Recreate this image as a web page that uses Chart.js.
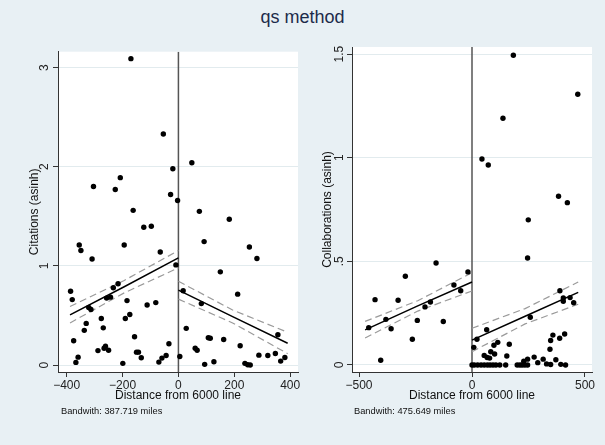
<!DOCTYPE html>
<html><head><meta charset="utf-8">
<script src="https://cdn.jsdelivr.net/npm/chart.js@4/dist/chart.umd.min.js"></script>
<style>
html,body{margin:0;padding:0;background:#e8f0f4;}
body{width:605px;height:445px;position:relative;overflow:hidden;font-family:"Liberation Sans",Arial,sans-serif;}
#title{position:absolute;left:0;top:7px;width:605px;text-align:center;font-size:18px;color:#1c2b4a;line-height:normal;}
.note{position:absolute;top:406px;font-size:9.3px;color:#111;line-height:normal;white-space:nowrap;}
canvas{position:absolute;top:40px;}
</style></head><body>
<div id="title">qs method</div>
<canvas id="c1" width="305" height="380" style="left:0px"></canvas>
<canvas id="c2" width="305" height="380" style="left:300px"></canvas>
<div class="note" style="left:61px">Bandwith: 387.719 miles</div>
<div class="note" style="left:354px">Bandwith: 475.649 miles</div>
<script>
// ---- Citations panel (left) ----
const citeDist = [-170,-54,-20,-304,-226,-208,-28,-3,-162,-124,-97,
  -355,-349,-309,-194,-65,-9,
  -386,-380,-216,-233,-257,-243,-184,-321,-313,-174,-190,-276,-112,-81,-330,-269,-337,-375,-157,-34,-288,-261,-266,-250,-150,-143,-133,-359,-367,-199,-44,-59,-70,
  48,75,182,92,254,281,150,212,17,82,28,107,114,162,356,60,67,221,288,320,347,381,366,94,127,238,248,257,5];
const citeVal = [3.09,2.33,1.98,1.80,1.77,1.89,1.72,1.66,1.56,1.39,1.40,
  1.21,1.155,1.07,1.21,1.14,1.01,
  0.745,0.66,0.82,0.78,0.675,0.685,0.65,0.58,0.56,0.51,0.47,0.47,0.605,0.63,0.42,0.375,0.35,0.245,0.285,0.215,0.146,0.19,0.17,0.15,0.13,0.13,0.073,0.08,0.027,0.017,0.096,0.07,0.03,
  2.04,1.55,1.47,1.245,1.19,1.075,0.94,0.715,0.75,0.62,0.37,0.275,0.27,0.258,0.305,0.17,0.15,0.195,0.10,0.096,0.116,0.076,0.04,0.007,0.033,0.017,0.003,0.0,0.087];
const citeFitLeftDist = [-388,-194,0];
const citeFitLeft = [0.506,0.79,1.08];
const citeFitLeftHi = [0.59,0.853,1.155];
const citeFitLeftLo = [0.425,0.728,0.98];
const citeFitRightDist = [0,194,391];
const citeFitRight = [0.755,0.488,0.22];
const citeFitRightHi = [0.845,0.555,0.33];
const citeFitRightLo = [0.665,0.425,0.115];
const citeXTicks = [-400,-200,0,200,400];
const citeXLabels = ["\u2212400","\u2212200","0","200","400"];
const citeYTicks = [0,1,2,3];
const citeYLabels = ["0","1","2","3"];

// ---- Collaborations panel (right) ----
const collabDist = [-159,-18,-295,-80,-50,-429,-327,-184,-208,-381,-242,-127,-457,-358,-264,-404,
  183,468,137,44,72,383,422,249,246,389,404,404,434,450,258,
  65,22,8,114,97,165,54,67,78,83,100,154,
  0,10,25,40,54,68,80,93,106,123,149,200,212,222,234,246,
  229,246,275,291,315,330,348,345,371,393,414,
  348,358,388,410];
const collabVal = [0.492,0.449,0.428,0.386,0.358,0.315,0.312,0.304,0.28,0.22,0.215,0.21,0.18,0.175,0.124,0.023,
  1.494,1.306,1.19,0.994,0.965,0.814,0.783,0.70,0.516,0.358,0.323,0.307,0.325,0.30,0.23,
  0.17,0.124,0.085,0.109,0.095,0.10,0.046,0.036,0.033,0.064,0.053,0.043,
  0,0,0,0,0,0,0,0,0,0,0,0,0,0,0,0,
  0.018,0.028,0.038,0.011,0.028,0.005,0.002,0.076,0.025,0.003,0.0,
  0.118,0.144,0.129,0.149];
const collabFitLeftDist = [-473,-240,0];
const collabFitLeft = [0.169,0.285,0.40];
const collabFitLeftHi = [0.21,0.31,0.445];
const collabFitLeftLo = [0.13,0.26,0.357];
const collabFitRightDist = [0,235,470];
const collabFitRight = [0.12,0.235,0.35];
const collabFitRightHi = [0.177,0.272,0.40];
const collabFitRightLo = [0.064,0.198,0.293];
const collabXTicks = [-500,0,500];
const collabXLabels = ["\u2212500","0","500"];
const collabYTicks = [0,0.5,1,1.5];
const collabYLabels = ["0",".5","1","1.5"];

const FONT = "'Liberation Sans', Arial, sans-serif";
const zip = (xs, ys) => xs.map((x,i)=>({x:x, y:ys[i]}));

const plotBg = {id:'plotBg', beforeDraw(chart){
  const {ctx, chartArea:a} = chart;
  ctx.save(); ctx.fillStyle = '#ffffff';
  ctx.fillRect(a.left, a.top, a.right-a.left, a.bottom-a.top);
  ctx.restore();
}};

function lineDs(xs, ys, dashed, order){
  return {data: zip(xs, ys), showLine:true, pointRadius:0, borderColor: dashed ? '#9a9a9a' : '#000',
    borderWidth: dashed ? 1.2 : 1.5, borderDash: dashed ? [7,4] : [], fill:false, order: order};
}

function makeChart(id, cfg){
  const datasets = [
    {data: zip(cfg.dist, cfg.val), pointRadius:2.7, pointBackgroundColor:'#000', pointBorderWidth:0, showLine:false, order:0},
    lineDs(cfg.fl[0], cfg.fl[1], false, 1),
    lineDs(cfg.fl[0], cfg.fl[2], true, 2),
    lineDs(cfg.fl[0], cfg.fl[3], true, 2),
    lineDs(cfg.fr[0], cfg.fr[1], false, 1),
    lineDs(cfg.fr[0], cfg.fr[2], true, 2),
    lineDs(cfg.fr[0], cfg.fr[3], true, 2),
    {data:[{x:0,y:cfg.ymin},{x:0,y:cfg.ymax}], showLine:true, pointRadius:0, borderColor:'#555', borderWidth:1.5, order:3}
  ];
  return new Chart(document.getElementById(id), {
    type:'scatter',
    data:{datasets},
    plugins:[plotBg],
    options:{
      responsive:false, animation:false, events:[],
      layout:{padding:{top:7, right:cfg.padRight, left:0, bottom:0}},
      plugins:{legend:{display:false}, tooltip:{enabled:false}, title:{display:false}},
      scales:{
        x:{type:'linear', min:cfg.xmin, max:cfg.xmax,
          afterBuildTicks:(s)=>{s.ticks = cfg.xTicks.map(v=>({value:v}));},
          afterFit:(s)=>{s.height = 48;},
          ticks:{callback:(v,i)=>cfg.xLabels[i], font:{family:FONT, size:12}, color:'#222', padding:1, maxRotation:0, minRotation:0, autoSkip:false},
          grid:{drawOnChartArea:false, drawTicks:true, tickLength:5, tickColor:'#333'},
          border:{display:true, color:'#333', width:1},
          title:{display:true, text:'Distance from 6000 line', font:{family:FONT, size:12}, color:'#111', padding:{top:0,bottom:16.8}}
        },
        y:{type:'linear', min:cfg.ymin, max:cfg.ymax,
          afterBuildTicks:(s)=>{s.ticks = cfg.yTicks.map(v=>({value:v}));},
          afterFit:(s)=>{s.width = cfg.yWidth;},
          ticks:{callback:(v,i)=>cfg.yLabels[i], font:{family:FONT, size:12}, color:'#222', padding:cfg.yTickPad, minRotation:90, maxRotation:90, crossAlign:'center', autoSkip:false},
          grid:{drawOnChartArea:true, color:'#e2ebee', lineWidth:1, drawTicks:true, tickLength:5, tickColor:'#333'},
          border:{display:true, color:'#333', width:1},
          title:{display:true, text:cfg.yTitle, font:{family:FONT, size:12}, color:'#111', padding:{top:cfg.yTitlePad, bottom:0}}
        }
      }
    }
  });
}

makeChart('c1', {
  dist:citeDist, val:citeVal,
  fl:[citeFitLeftDist, citeFitLeft, citeFitLeftHi, citeFitLeftLo],
  fr:[citeFitRightDist, citeFitRight, citeFitRightHi, citeFitRightLo],
  xmin:-431, xmax:428, ymin:-0.07, ymax:3.16,
  xTicks:citeXTicks, xLabels:citeXLabels, yTicks:citeYTicks, yLabels:citeYLabels,
  padRight:7, yWidth:58, yTickPad:4.5, yTitle:'Citations (asinh)', yTitlePad:27.8
});
makeChart('c2', {
  dist:collabDist, val:collabVal,
  fl:[collabFitLeftDist, collabFitLeft, collabFitLeftHi, collabFitLeftLo],
  fr:[collabFitRightDist, collabFitRight, collabFitRightHi, collabFitRightLo],
  xmin:-531, xmax:531, ymin:-0.034, ymax:1.534,
  xTicks:collabXTicks, xLabels:collabXLabels, yTicks:collabYTicks, yLabels:collabYLabels,
  padRight:13, yWidth:52, yTickPad:-1.5, yTitle:'Collaborations (asinh)', yTitlePad:20.3
});
</script>
</body></html>
